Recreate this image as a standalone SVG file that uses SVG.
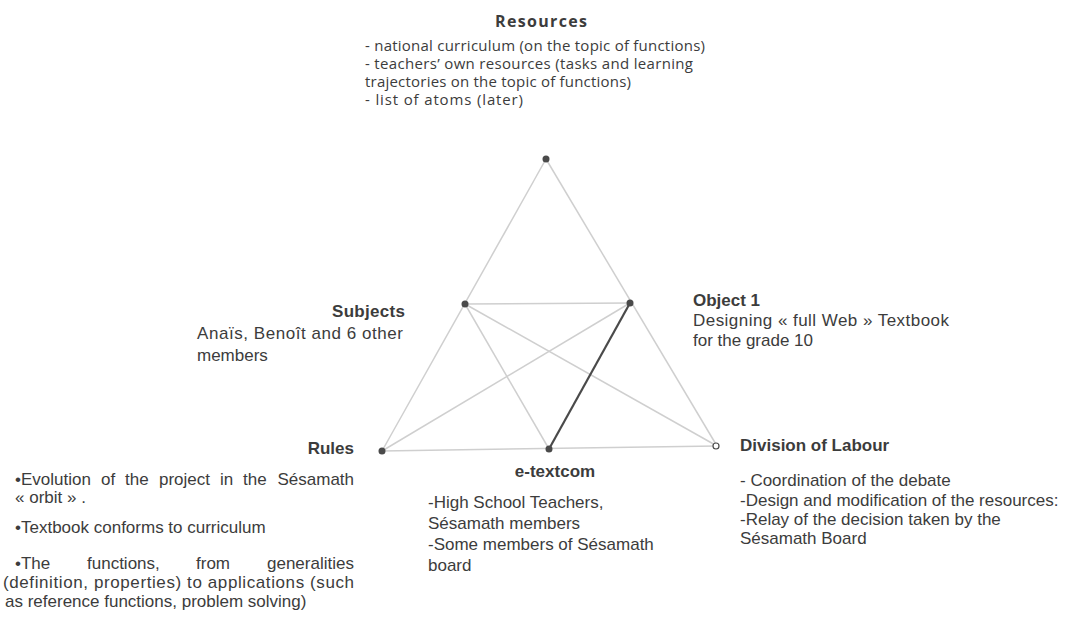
<svg xmlns="http://www.w3.org/2000/svg" width="1079" height="618" viewBox="0 0 1079 618">
<style>
.t{font-family:"Liberation Sans",Arial,sans-serif;font-size:17px;fill:#3c3c3c}
.b{font-family:"Liberation Sans",Arial,sans-serif;font-size:17px;font-weight:bold;fill:#3c3c3c}
.r{font-family:"Open Sans","Liberation Sans",sans-serif;font-size:15px;fill:#3c3c3c}
.rb{font-family:"Open Sans","Liberation Sans",sans-serif;font-size:16px;font-weight:bold;fill:#3c3c3c}
.e{stroke:#cfcfcf;stroke-width:1.5;fill:none}
.k{stroke:#4a4a4a;stroke-width:2.2;fill:none}
.d{fill:#4a4a4a}
</style>
<rect width="1079" height="618" fill="#fff"/>
<g id="connectors">
<line class="e" x1="546" y1="159" x2="382" y2="451"/>
<line class="e" x1="546" y1="159" x2="717" y2="446"/>
<line class="e" x1="382" y1="451" x2="717" y2="446"/>
<line class="e" x1="465" y1="304" x2="630" y2="303"/>
<line class="e" x1="465" y1="304" x2="549" y2="449"/>
<line class="e" x1="465" y1="304" x2="717" y2="446"/>
<line class="e" x1="630" y1="303" x2="382" y2="451"/>
<line class="k" x1="630" y1="303" x2="549" y2="449"/>
</g>
<g id="resources">
<circle class="d" cx="546" cy="159" r="3.5"/>
<text class="rb" x="495" y="27" textLength="92">Resources</text>
<text class="r" x="365" y="51" textLength="340">- national curriculum (on the topic of functions)</text>
<text class="r" x="365" y="69" textLength="328">-  teachers’ own resources (tasks and learning</text>
<text class="r" x="365" y="87" textLength="266">trajectories on the topic of functions)</text>
<text class="r" x="365" y="105" textLength="158">- list of atoms (later)</text>
</g>
<g id="subjects">
<circle class="d" cx="465" cy="304" r="3.5"/>
<text class="b" x="332" y="317" textLength="73">Subjects</text>
<text class="t" x="197" y="339" textLength="206">Anaïs, Benoît and 6 other</text>
<text class="t" x="197" y="361">members</text>
</g>
<g id="object">
<circle class="d" cx="630" cy="303" r="3.5"/>
<text class="b" x="693" y="306">Object 1</text>
<text class="t" x="693" y="326" textLength="256">Designing « full Web » Textbook</text>
<text class="t" x="693" y="346">for the grade 10</text>
</g>
<g id="rules">
<circle class="d" cx="382" cy="451" r="3.5"/>
<text class="b" x="354" y="454" text-anchor="end">Rules</text>
<text class="t" y="485"><tspan x="15">•Evolution</tspan><tspan x="101">of</tspan><tspan x="125">the</tspan><tspan x="159">project</tspan><tspan x="220">in</tspan><tspan x="243">the</tspan><tspan x="277.5">Sésamath</tspan></text>
<text class="t" x="15" y="503">« orbit » .</text>
<text class="t" x="15" y="533">•Textbook conforms to curriculum</text>
<text class="t" y="569"><tspan x="15">•The</tspan><tspan x="87">functions,</tspan><tspan x="196">from</tspan><tspan x="267">generalities</tspan></text>
<text class="t" x="3" y="588" textLength="351">(definition, properties) to applications (such</text>
<text class="t" x="5" y="607">as reference functions, problem solving)</text>
</g>
<g id="etextcom">
<circle class="d" cx="549" cy="449" r="3.5"/>
<text class="b" x="555" y="477" text-anchor="middle">e-textcom</text>
<text class="t" x="428" y="508">-High School Teachers,</text>
<text class="t" x="428" y="529">Sésamath members</text>
<text class="t" x="428" y="550">-Some members of Sésamath</text>
<text class="t" x="428" y="571">board</text>
</g>
<g id="division">
<circle cx="716" cy="446" r="3" fill="#fff" stroke="#4a4a4a" stroke-width="1.2"/>
<text class="b" x="740" y="451">Division of Labour</text>
<text class="t" x="740" y="486">- Coordination of the debate</text>
<text class="t" x="740" y="506">-Design and modification of the resources:</text>
<text class="t" x="740" y="525">-Relay of the decision taken by the</text>
<text class="t" x="740" y="544">Sésamath Board</text>
</g>
</svg>
